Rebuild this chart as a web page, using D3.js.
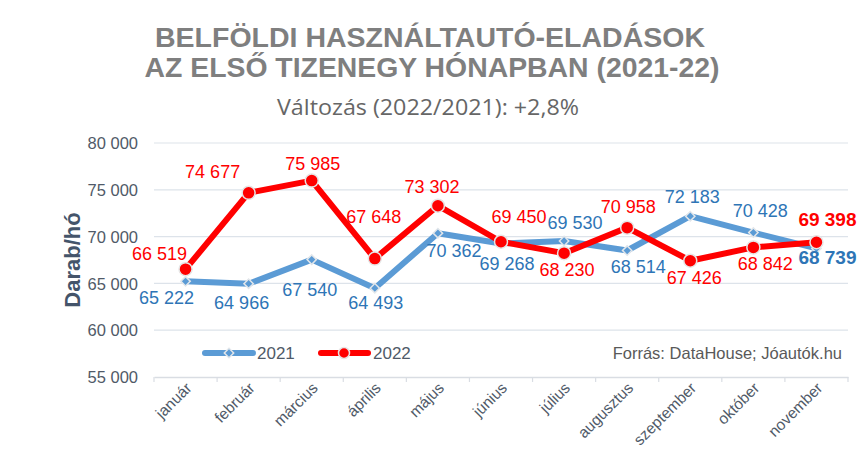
<!DOCTYPE html>
<html>
<head>
<meta charset="utf-8">
<script src="https://cdn.jsdelivr.net/npm/d3@7"></script>
<style>
  body { margin: 0; background: #fff; }
  svg { display: block; font-family: "Liberation Sans", Arial, sans-serif; }
</style>
</head>
<body>
<svg width="864" height="466"></svg>
<script>
const months = ["január", "február", "március", "április", "május", "június",
    "július", "augusztus", "szeptember", "október", "november"];
const sales2021 = [65222, 64966, 67540, 64493, 70362, 69268, 69530, 68514, 72183, 70428, 68739];
const sales2022 = [66519, 74677, 75985, 67648, 73302, 69450, 68230, 70958, 67426, 68842, 69398];
const yTicks = [55000, 60000, 65000, 70000, 75000, 80000];

// label offsets from each point (dx, dy), as Excel placed them
const labelOff2021 = [[-19, 23], [-7, 25], [-2, 36], [1, 21], [16, 24], [6, 27], [11, -12], [11, 22], [2, -13], [7, -16], [11, 16]];
const labelOff2022 = [[-26, -9], [-36, -15], [1, -11], [-1, -36], [-6, -13], [18, -19], [3, 23], [1, -15], [4, 23], [12, 23], [11, -16]];

const svg = d3.select("svg");
const plotL = 154, plotR = 848, plotT = 143, plotB = 377;

const x = d3.scaleBand().domain(months).range([plotL, plotR]);
const y = d3.scaleLinear().domain([55000, 80000]).range([plotB, plotT]);
const fmt = v => d3.format(",")(v).replace(/,/g, " ");
const px = m => x(m) + x.bandwidth() / 2;

// titles
svg.append("text").attr("x", 430).attr("y", 47).attr("text-anchor", "middle")
    .attr("font-size", "28px").attr("font-weight", "bold").attr("fill", "#7f7f7f")
    .attr("textLength", 550).attr("lengthAdjust", "spacingAndGlyphs")
    .text("BELFÖLDI HASZNÁLTAUTÓ-ELADÁSOK");
svg.append("text").attr("x", 432).attr("y", 77).attr("text-anchor", "middle")
    .attr("font-size", "28px").attr("font-weight", "bold").attr("fill", "#7f7f7f")
    .attr("textLength", 575).attr("lengthAdjust", "spacingAndGlyphs")
    .text("AZ ELSŐ TIZENEGY HÓNAPBAN (2021-22)");
svg.append("text").attr("x", 428).attr("y", 115).attr("text-anchor", "middle")
    .attr("font-size", "22px").attr("fill", "#666").style("font-family", "'Open Sans', sans-serif")
    .attr("textLength", 302).attr("lengthAdjust", "spacingAndGlyphs")
    .text("Változás (2022/2021): +2,8%");

// grid
svg.append("g").selectAll("line").data(yTicks.slice(1)).enter().append("line")
    .attr("x1", plotL).attr("x2", plotR)
    .attr("y1", d => y(d)).attr("y2", d => y(d))
    .attr("stroke", "#dde3ea").attr("stroke-width", 1.2);

// y axis labels
const yAxis = svg.append("g").attr("transform", `translate(${plotL - 13},0)`)
    .call(d3.axisLeft(y).tickValues(yTicks).tickFormat(fmt).tickSize(0));
yAxis.select(".domain").remove();
yAxis.selectAll("text").attr("font-size", "16.5px").attr("fill", "#505a68")
    .attr("font-family", "'Liberation Sans', Arial, sans-serif").attr("dy", "0.35em");

svg.append("text").attr("transform", `translate(80,${(plotT + plotB) / 2}) rotate(-90)`)
    .attr("text-anchor", "middle").attr("font-size", "22px").attr("font-weight", "bold")
    .attr("fill", "#44546a").text("Darab/hó");

// x axis
const xAxis = svg.append("g").attr("transform", `translate(0,${plotB})`)
    .call(d3.axisBottom(x).tickSize(0).tickFormat(""));
xAxis.select(".domain").attr("stroke", "#d9dde3").attr("stroke-width", 1.5);
svg.append("g").selectAll("line").data(d3.range(months.length + 1)).enter().append("line")
    .attr("x1", i => plotL + i * x.bandwidth()).attr("x2", i => plotL + i * x.bandwidth())
    .attr("y1", plotB).attr("y2", plotB + 5)
    .attr("stroke", "#d9dde3").attr("stroke-width", 1.2);
svg.append("g").selectAll("text").data(months).enter().append("text")
    .attr("transform", d => `translate(${px(d) + 7},${plotB + 12}) rotate(-45)`)
    .attr("text-anchor", "end").attr("font-size", "15.5px").attr("fill", "#505a68")
    .text(d => d);

// lines
const line = d3.line().x((d, i) => px(months[i])).y(d => y(d));
svg.append("path").datum(sales2021).attr("d", line).attr("fill", "none")
    .attr("stroke", "#5b9bd5").attr("stroke-width", 6).attr("stroke-linejoin", "round");
svg.append("path").datum(sales2022).attr("d", line).attr("fill", "none")
    .attr("stroke", "#ff0000").attr("stroke-width", 6).attr("stroke-linejoin", "round");

// diamond = square turned by 45 degrees
const diamond = d3.symbol().type(d3.symbolSquare).size(44);

svg.append("g").selectAll("path").data(sales2021).enter().append("path")
    .attr("d", diamond)
    .attr("transform", (d, i) => `translate(${px(months[i])},${y(d)}) rotate(45)`)
    .attr("fill", "#5b9bd5").attr("stroke", "#e2e6ea").attr("stroke-width", 1.5);
svg.append("g").selectAll("circle").data(sales2022).enter().append("circle")
    .attr("cx", (d, i) => px(months[i])).attr("cy", d => y(d)).attr("r", 6.5)
    .attr("fill", "#ff0000").attr("stroke", "#e6e6e6").attr("stroke-width", 1.5);

// data labels
const last = months.length - 1;
svg.append("g").selectAll("text").data(sales2021).enter().append("text")
    .attr("x", (d, i) => px(months[i]) + labelOff2021[i][0])
    .attr("y", (d, i) => y(d) + labelOff2021[i][1])
    .attr("text-anchor", "middle")
    .attr("font-size", (d, i) => i === last ? "19px" : "18px")
    .attr("font-weight", (d, i) => i === last ? "bold" : "normal")
    .attr("fill", "#2e75b6").text(fmt);
svg.append("g").selectAll("text").data(sales2022).enter().append("text")
    .attr("x", (d, i) => px(months[i]) + labelOff2022[i][0])
    .attr("y", (d, i) => y(d) + labelOff2022[i][1])
    .attr("text-anchor", "middle")
    .attr("font-size", (d, i) => i === last ? "19px" : "18px")
    .attr("font-weight", (d, i) => i === last ? "bold" : "normal")
    .attr("fill", "#ff0000").text(fmt);

// legend
const legend = svg.append("g");
legend.append("line").attr("x1", 205).attr("x2", 253).attr("y1", 353).attr("y2", 353)
    .attr("stroke", "#5b9bd5").attr("stroke-width", 6).attr("stroke-linecap", "round");
legend.append("path").attr("d", diamond).attr("transform", "translate(229,353) rotate(45)")
    .attr("fill", "#5b9bd5").attr("stroke", "#e2e6ea").attr("stroke-width", 1.5);
legend.append("text").attr("x", 257).attr("y", 359).attr("font-size", "17px")
    .attr("fill", "#505a68").text("2021");
legend.append("line").attr("x1", 321).attr("x2", 368).attr("y1", 353).attr("y2", 353)
    .attr("stroke", "#ff0000").attr("stroke-width", 6).attr("stroke-linecap", "round");
legend.append("circle").attr("cx", 344).attr("cy", 353).attr("r", 5.5)
    .attr("fill", "#ff0000").attr("stroke", "#e6e6e6").attr("stroke-width", 1.5);
legend.append("text").attr("x", 373).attr("y", 359).attr("font-size", "17px")
    .attr("fill", "#505a68").text("2022");

svg.append("text").attr("x", 842).attr("y", 359).attr("text-anchor", "end")
    .attr("font-size", "16.5px").attr("fill", "#595959").text("Forrás: DataHouse; Jóautók.hu");
</script>
</body>
</html>
